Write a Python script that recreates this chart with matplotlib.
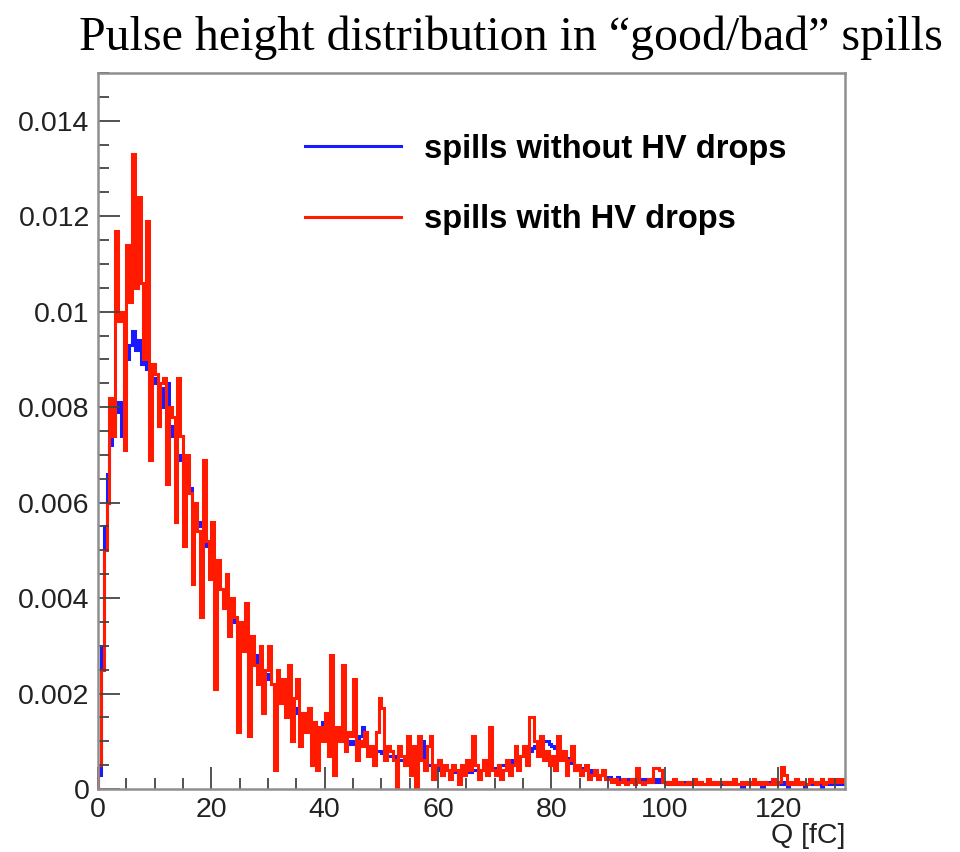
import numpy as np
import matplotlib
matplotlib.use("Agg")
import matplotlib.pyplot as plt
from matplotlib.lines import Line2D


# histogram contents, 0.5 fC bins from 0 to 132 fC, in units of 1e-3
bin_width = 0.5
q_max = 132.0

spills_good = [
    0.3, 3.0, 5.5, 6.6, 7.2, 7.6, 7.9, 8.1, 7.4, 8.3, 9.0, 9.3, 9.6, 9.2, 9.4, 8.9, 9.1, 8.8, 8.7, 8.5,
    8.6, 8.2, 8.4, 8.0, 8.5, 7.6, 7.4, 7.2, 7.0, 6.9, 6.6, 6.4, 6.3, 6.0, 5.9, 5.6, 5.5, 5.3, 5.1, 5.0,
    4.8, 4.6, 4.5, 4.2, 4.0, 3.9, 3.7, 3.6, 3.5, 3.4, 3.2, 3.1, 3.0, 2.9, 2.8, 2.8, 2.6, 2.5, 2.4, 2.4,
    2.3, 2.2, 2.1, 2.3, 2.0, 1.9, 1.9, 1.8, 1.8, 1.7, 1.6, 1.6, 1.5, 1.5, 1.4, 1.4, 1.4, 1.3, 1.3, 1.4,
    1.5, 1.3, 1.2, 1.2, 1.1, 1.1, 1.0, 1.0, 1.0, 0.95, 1.0, 0.9, 1.1, 1.3, 1.0, 0.9, 0.85, 0.8, 0.8, 0.8,
    0.75, 0.75, 0.7, 0.7, 0.7, 0.65, 0.6, 0.6, 0.6, 0.6, 0.55, 0.55, 0.6, 0.9, 1.0, 0.6, 0.5, 0.5, 0.45, 0.45,
    0.4, 0.4, 0.4, 0.4, 0.35, 0.4, 0.35, 0.35, 0.4, 0.35, 0.35, 0.35, 0.4, 0.4, 0.4, 0.4, 0.45, 0.4, 0.45, 0.45,
    0.45, 0.5, 0.5, 0.5, 0.55, 0.55, 0.6, 0.6, 0.65, 0.7, 0.7, 0.75, 0.8, 0.85, 0.9, 0.9, 0.95, 1.0, 1.0, 0.95,
    0.9, 0.85, 0.8, 0.75, 0.7, 0.65, 0.6, 0.55, 0.5, 0.5, 0.45, 0.45, 0.4, 0.4, 0.35, 0.35, 0.3, 0.3, 0.3, 0.25,
    0.25, 0.2, 0.2, 0.25, 0.2, 0.2, 0.2, 0.15, 0.2, 0.2, 0.2, 0.15, 0.2, 0.2, 0.15, 0.2, 0.15, 0.2, 0.15, 0.15,
    0.15, 0.1, 0.15, 0.15, 0.1, 0.15, 0.1, 0.15, 0.1, 0.15, 0.15, 0.1, 0.15, 0.1, 0.1, 0.15, 0.1, 0.15, 0.1, 0.1,
    0.1, 0.15, 0.1, 0.1, 0.15, 0.1, 0.1, 0.05, 0.1, 0.15, 0.1, 0.1, 0.15, 0.1, 0.05, 0.1, 0.1, 0.15, 0.1, 0.1,
    0.1, 0.15, 0.1, 0.05, 0.1, 0.1, 0.15, 0.1, 0.1, 0.05, 0.1, 0.15, 0.1, 0.1, 0.1, 0.05, 0.1, 0.1, 0.15, 0.1,
    0.1, 0.1, 0.15, 0.1,
]

spills_bad = [
    0.5, 2.5, 5.0, 6.0, 8.2, 7.4, 11.7, 9.8, 10.0, 7.1, 11.4, 10.2, 13.3, 10.5, 12.4, 10.6, 9.0, 11.9, 6.9, 8.9,
    8.7, 7.6, 8.5, 8.6, 6.4, 8.0, 7.8, 5.6, 8.6, 7.4, 5.1, 7.0, 6.2, 4.3, 6.0, 5.4, 3.6, 6.9, 5.2, 4.4,
    5.6, 2.1, 4.8, 4.2, 3.8, 4.5, 3.2, 4.0, 3.6, 1.2, 3.5, 2.9, 3.9, 1.1, 3.2, 2.6, 2.2, 3.0, 1.6, 2.5,
    3.0, 2.2, 0.4, 2.5, 1.8, 2.3, 1.5, 2.6, 1.0, 1.9, 2.3, 0.9, 1.6, 1.2, 1.7, 0.5, 1.4, 0.4, 1.3, 1.0,
    1.6, 0.7, 2.8, 0.3, 1.3, 1.0, 2.6, 0.8, 1.2, 1.1, 2.3, 0.6, 1.0, 0.9, 1.2, 0.7, 0.9, 0.5, 1.2, 1.9,
    1.7, 0.6, 0.9, 0.8, 0.6, 0.0, 0.9, 0.7, 0.5, 1.1, 0.3, 0.9, 0.0, 1.1, 0.6, 0.4, 0.9, 1.1, 0.2, 0.5,
    0.6, 0.3, 0.5, 0.4, 0.2, 0.5, 0.4, 0.1, 0.5, 0.3, 0.6, 0.4, 1.1, 0.5, 0.2, 0.4, 0.6, 0.3, 1.3, 0.4,
    0.3, 0.5, 0.2, 0.4, 0.6, 0.3, 0.5, 0.9, 0.4, 0.7, 0.9, 0.5, 1.5, 1.5, 1.0, 0.7, 1.1, 0.6, 0.8, 0.5,
    0.7, 0.4, 1.1, 0.6, 0.8, 0.3, 0.6, 0.9, 0.4, 0.5, 0.3, 0.4, 0.5, 0.2, 0.3, 0.4, 0.2, 0.3, 0.4, 0.2,
    0.2, 0.15, 0.2, 0.1, 0.15, 0.2, 0.1, 0.15, 0.2, 0.1, 0.45, 0.15, 0.1, 0.15, 0.2, 0.15, 0.45, 0.45, 0.4, 0.15,
    0.1, 0.15, 0.1, 0.2, 0.1, 0.15, 0.1, 0.1, 0.15, 0.1, 0.2, 0.1, 0.15, 0.1, 0.1, 0.2, 0.1, 0.15, 0.1, 0.15,
    0.15, 0.1, 0.15, 0.1, 0.2, 0.1, 0.1, 0.15, 0.1, 0.15, 0.1, 0.2, 0.1, 0.15, 0.1, 0.15, 0.1, 0.1, 0.2, 0.1,
    0.15, 0.47, 0.3, 0.1, 0.15, 0.1, 0.2, 0.1, 0.15, 0.1, 0.1, 0.2, 0.15, 0.1, 0.15, 0.2, 0.1, 0.15, 0.2, 0.15,
    0.2, 0.15, 0.2, 0.15,
]

labels = ["spills without HV drops", "spills with HV drops"]
colors = ["#1a1aff", "#ff1a00"]

x_ticks = [0, 20, 40, 60, 80, 100, 120]
y_ticks = [0, 0.002, 0.004, 0.006, 0.008, 0.01, 0.012, 0.014]
y_tick_labels = ["0", "0.002", "0.004", "0.006", "0.008", "0.01", "0.012", "0.014"]

title = "Pulse height distribution in \u201cgood/bad\u201d spills"

edges = np.arange(0, q_max + bin_width / 2, bin_width)
good = np.array(spills_good) * 1e-3
bad = np.array(spills_bad) * 1e-3

sans = "Liberation Sans"
text_color = "#222222"

fig = plt.figure(figsize=(9.6, 8.52), dpi=100)
ax = fig.add_axes([98 / 960, 1 - 789 / 852, 747 / 960, 716 / 852])

ax.stairs(good, edges, color=colors[0], linewidth=2.2)
ax.stairs(bad, edges, color=colors[1], linewidth=2.2)

ax.set_xlim(0, 131.8)
ax.set_ylim(0, 0.0150)

ax.set_xticks(x_ticks)
ax.set_xticks(np.arange(0, 131, 5), minor=True)
ax.set_yticks(y_ticks)
ax.set_yticklabels(y_tick_labels)
ax.set_yticks(np.arange(0, 0.01501, 0.0005), minor=True)

ax.tick_params(axis="both", which="major", direction="in", length=16, width=1.3,
               color="#444444", labelsize=20.5, labelcolor=text_color, pad=6)
ax.tick_params(axis="both", which="minor", direction="in", length=8, width=1.3, color="#444444")
for lab in ax.get_xticklabels() + ax.get_yticklabels():
    lab.set_family(sans)

for side in ["top", "right", "bottom", "left"]:
    ax.spines[side].set_linewidth(1.8)
    ax.spines[side].set_color("#8f8f8f")

ax.set_xlabel("Q [fC]", loc="right", fontsize=20.5, family=sans, color=text_color, labelpad=0)

handles = [Line2D([], [], color=c, linewidth=2.2) for c in colors]
ax.legend(handles, labels, loc="upper left", bbox_to_anchor=(0.277, 0.915),
          frameon=False, borderpad=0, borderaxespad=0, handlelength=2.95,
          handletextpad=0.7, labelspacing=1.2,
          prop={"family": sans, "weight": "bold", "size": 23.5})

fig.text(0.532, 1 - 50 / 852, title, ha="center", va="baseline",
         family="Liberation Serif", fontsize=34.5, color="black")

fig.savefig("out.png", dpi=100)
